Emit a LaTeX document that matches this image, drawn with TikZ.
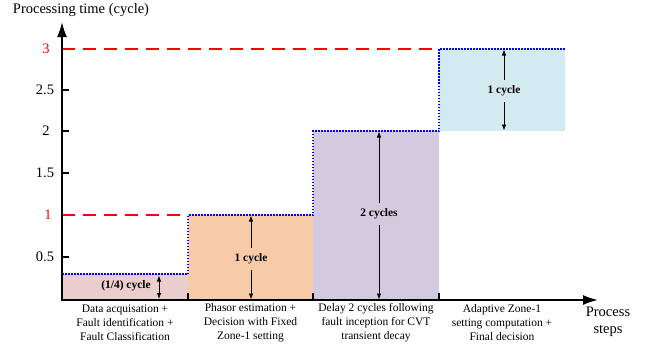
\documentclass[tikz,border=0pt]{standalone}
\usepackage{fontspec}
\setmainfont{Liberation Serif}
\newfontfamily\tnr{Liberation Serif}
\usetikzlibrary{arrows.meta}
\definecolor{cA}{HTML}{EACDCD}
\definecolor{cB}{HTML}{F8CBA8}
\definecolor{cC}{HTML}{D3CADF}
\definecolor{cD}{HTML}{D3EAF0}
\definecolor{redd}{HTML}{FF0000}
\definecolor{bluu}{HTML}{0000EE}
\begin{document}
\begin{tikzpicture}[x=1pt,y=-1pt,
 axisline/.style={line width=1.8pt,-{Latex[length=15pt,width=10pt]}},
 redline/.style={redd, line width=1.6pt, dash pattern=on 13pt off 8pt},
 blueline/.style={bluu, line width=1.5pt, dash pattern=on 1.5pt off 1.5pt},
 dimline/.style={line width=0.8pt,>={Latex[length=6pt,width=4.5pt]}},
 steplabel/.style={font=\tnr\fontsize{11.5}{14}\selectfont, align=center, inner sep=0pt},
 cyclabel/.style={font=\tnr\fontsize{11.5}{14}\selectfont\bfseries, inner xsep=1pt, inner ysep=6pt},
 bigtext/.style={font=\tnr\fontsize{14.5}{17}\selectfont, align=center, inner sep=0pt},
 ticklabel/.style={font=\tnr\fontsize{14.5}{17}\selectfont, inner sep=0pt},
 ytick/.style={line width=1.2pt},
 xtick/.style={line width=1.2pt},
]
\useasboundingbox (0,0) rectangle (651,343);
% key coordinates
\coordinate (O) at (62,300);
\coordinate (ytip) at (62,22);
\coordinate (xtip) at (598,300);
% boxes
\fill[cA] (62,274) rectangle (188,300);
\fill[cB] (188,215) rectangle (313,300);
\fill[cC] (313,131) rectangle (439,300);
\fill[cD] (439,49) rectangle (565,131);
% reference lines
\draw[redline] (62,49) -- (439,49);
\draw[redline] (62,215) -- (188,215);
% staircase
\draw[blueline] (62,274) -- (188,274) -- (188,215) -- (313,215) -- (313,131) -- (439,131) -- (439,49) -- (565,49);
% y ticks
\foreach \yy in {257,173,131,90} \draw[ytick] (62,\yy) -- (69,\yy);
% x ticks
\foreach \xx in {188,313,439} \draw[xtick] (\xx,293) -- (\xx,300);
% axes
\draw[axisline] ([yshift=-0.9pt]O) -- (ytip);
\draw[axisline] ([xshift=-0.9pt]O) -- (xtip);
% tick labels
\node[ticklabel, text=redd] (t3) at (46,49) {3};
\node[ticklabel] (t25) at (45,90) {2.5};
\node[ticklabel] (t2) at (46,131) {2};
\node[ticklabel] (t15) at (45,173) {1.5};
\node[ticklabel, text=redd] (t1) at (48,215) {1};
\node[ticklabel] (t05) at (45,257) {0.5};
% axis titles
\node[bigtext] (ylab) at (81,10) {Processing time (cycle)};
\node[bigtext, font=\tnr\fontsize{14.5}{17.5}\selectfont] (xlab) at (608,322) {Process\\steps};
% step labels
\node[steplabel] (s1) at (125,323) {Data acquisation +\\Fault identification +\\Fault Classification};
\node[steplabel] (s2) at (250.5,323) {Phasor estimation +\\Decision with Fixed\\Zone-1 setting};
\node[steplabel] (s3) at (376,323) {Delay 2 cycles following\\fault inception for CVT\\transient decay};
\node[steplabel] (s4) at (502,323) {Adaptive Zone-1\\setting computation +\\Final decision};
% cycle labels and dimension arrows
\node[cyclabel, inner ysep=1pt] (c1) at (126,286) {(1/4) cycle};
\coordinate (c1t) at (159,275.5);
\coordinate (c1b) at (159,299);
\draw[dimline,<->] (c1t) -- (c1b);

\node[cyclabel] (c2) at (251,259) {1 cycle};
\coordinate (c2t) at (251,215.5);
\coordinate (c2b) at (251,299.5);
\draw[dimline,->] (c2.north) -- (c2t);
\draw[dimline,->] (c2.south) -- (c2b);

\node[cyclabel] (c3) at (379,214) {2 cycles};
\coordinate (c3t) at (379,131.5);
\coordinate (c3b) at (379,299.5);
\draw[dimline,->] (c3.north) -- (c3t);
\draw[dimline,->] (c3.south) -- (c3b);

\node[cyclabel] (c4) at (504,91) {1 cycle};
\coordinate (c4t) at (504,49.5);
\coordinate (c4b) at (504,130.5);
\draw[dimline,->] (c4.north) -- (c4t);
\draw[dimline,->] (c4.south) -- (c4b);
\end{tikzpicture}
\end{document}
